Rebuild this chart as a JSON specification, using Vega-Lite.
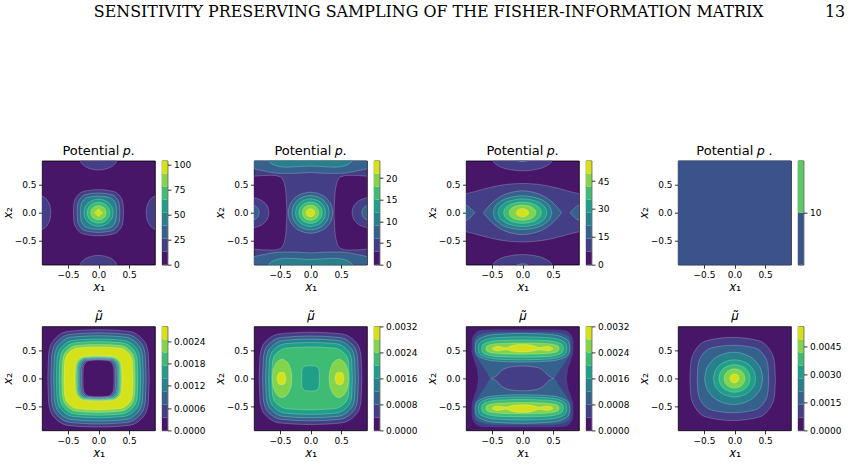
{
"$schema":"https://vega.github.io/schema/vega-lite/v6.json",
"background":"white",
"padding":{"left":0,"top":4,"right":5,"bottom":5},
"config":{
 "view":{"stroke":"#000","strokeWidth":0.8},
 "font":"DejaVu Sans",
 "axis":{"domain":false,"grid":false,"labelFont":"DejaVu Sans","labelFontSize":9,"labelColor":"#000","tickColor":"#000","tickSize":3.5,"tickWidth":0.8,"labelPadding":2.5,"titleFont":"DejaVu Sans","titleFontSize":13,"titleFontWeight":"normal","titleColor":"#000"},
 "axisX":{"titlePadding":1},
 "axisY":{"titlePadding":0},
 "title":{"font":"DejaVu Sans","fontSize":13,"fontWeight":"normal","color":"#000","offset":3}
},
"datasets":{
"p1":[
{"r":1,"c":1,"x":-0.31,"l":0.98,"h":0.98},{"r":1,"c":1,"x":-0.295,"l":0.911,"h":1.049},{"r":1,"c":1,"x":-0.248,"l":0.848,"h":1.112},{"r":1,"c":1,"x":-0.155,"l":0.79,"h":1.17},{"r":1,"c":1,"x":0,"l":0.76,"h":1.2},{"r":1,"c":1,"x":0.155,"l":0.79,"h":1.17},{"r":1,"c":1,"x":0.248,"l":0.848,"h":1.112},{"r":1,"c":1,"x":0.295,"l":0.911,"h":1.049},{"r":1,"c":1,"x":0.31,"l":0.98,"h":0.98},
{"r":2,"c":1,"x":-0.31,"l":-0.98,"h":-0.98},{"r":2,"c":1,"x":-0.295,"l":-1.049,"h":-0.911},{"r":2,"c":1,"x":-0.248,"l":-1.112,"h":-0.848},{"r":2,"c":1,"x":-0.155,"l":-1.17,"h":-0.79},{"r":2,"c":1,"x":0,"l":-1.2,"h":-0.76},{"r":2,"c":1,"x":0.155,"l":-1.17,"h":-0.79},{"r":2,"c":1,"x":0.248,"l":-1.112,"h":-0.848},{"r":2,"c":1,"x":0.295,"l":-1.049,"h":-0.911},{"r":2,"c":1,"x":0.31,"l":-0.98,"h":-0.98},
{"r":3,"c":1,"x":-1.18,"l":0,"h":0},{"r":3,"c":1,"x":-1.17,"l":-0.097,"h":0.097},{"r":3,"c":1,"x":-1.14,"l":-0.186,"h":0.186},{"r":3,"c":1,"x":-1.08,"l":-0.268,"h":0.268},{"r":3,"c":1,"x":-0.98,"l":-0.31,"h":0.31},{"r":3,"c":1,"x":-0.88,"l":-0.268,"h":0.268},{"r":3,"c":1,"x":-0.82,"l":-0.186,"h":0.186},{"r":3,"c":1,"x":-0.79,"l":-0.097,"h":0.097},{"r":3,"c":1,"x":-0.78,"l":0,"h":0},
{"r":4,"c":1,"x":0.78,"l":0,"h":0},{"r":4,"c":1,"x":0.79,"l":-0.097,"h":0.097},{"r":4,"c":1,"x":0.82,"l":-0.186,"h":0.186},{"r":4,"c":1,"x":0.88,"l":-0.268,"h":0.268},{"r":4,"c":1,"x":0.98,"l":-0.31,"h":0.31},{"r":4,"c":1,"x":1.08,"l":-0.268,"h":0.268},{"r":4,"c":1,"x":1.14,"l":-0.186,"h":0.186},{"r":4,"c":1,"x":1.17,"l":-0.097,"h":0.097},{"r":4,"c":1,"x":1.18,"l":0,"h":0},
{"r":5,"c":1,"x":-0.41,"l":0,"h":0},{"r":5,"c":1,"x":-0.402,"l":-0.159,"h":0.159},{"r":5,"c":1,"x":-0.369,"l":-0.265,"h":0.265},{"r":5,"c":1,"x":-0.246,"l":-0.378,"h":0.378},{"r":5,"c":1,"x":0,"l":-0.41,"h":0.41},{"r":5,"c":1,"x":0.246,"l":-0.378,"h":0.378},{"r":5,"c":1,"x":0.369,"l":-0.265,"h":0.265},{"r":5,"c":1,"x":0.402,"l":-0.159,"h":0.159},{"r":5,"c":1,"x":0.41,"l":0,"h":0},
{"r":6,"c":2,"x":-0.35,"l":0,"h":0},{"r":6,"c":2,"x":-0.343,"l":-0.136,"h":0.136},{"r":6,"c":2,"x":-0.315,"l":-0.226,"h":0.226},{"r":6,"c":2,"x":-0.21,"l":-0.323,"h":0.323},{"r":6,"c":2,"x":0,"l":-0.35,"h":0.35},{"r":6,"c":2,"x":0.21,"l":-0.323,"h":0.323},{"r":6,"c":2,"x":0.315,"l":-0.226,"h":0.226},{"r":6,"c":2,"x":0.343,"l":-0.136,"h":0.136},{"r":6,"c":2,"x":0.35,"l":0,"h":0},
{"r":7,"c":3,"x":-0.295,"l":0,"h":0},{"r":7,"c":3,"x":-0.289,"l":-0.115,"h":0.115},{"r":7,"c":3,"x":-0.266,"l":-0.191,"h":0.191},{"r":7,"c":3,"x":-0.177,"l":-0.272,"h":0.272},{"r":7,"c":3,"x":0,"l":-0.295,"h":0.295},{"r":7,"c":3,"x":0.177,"l":-0.272,"h":0.272},{"r":7,"c":3,"x":0.266,"l":-0.191,"h":0.191},{"r":7,"c":3,"x":0.289,"l":-0.115,"h":0.115},{"r":7,"c":3,"x":0.295,"l":0,"h":0},
{"r":8,"c":4,"x":-0.24,"l":0,"h":0},{"r":8,"c":4,"x":-0.228,"l":-0.075,"h":0.075},{"r":8,"c":4,"x":-0.192,"l":-0.144,"h":0.144},{"r":8,"c":4,"x":-0.12,"l":-0.208,"h":0.208},{"r":8,"c":4,"x":0,"l":-0.24,"h":0.24},{"r":8,"c":4,"x":0.12,"l":-0.208,"h":0.208},{"r":8,"c":4,"x":0.192,"l":-0.144,"h":0.144},{"r":8,"c":4,"x":0.228,"l":-0.075,"h":0.075},{"r":8,"c":4,"x":0.24,"l":0,"h":0},
{"r":9,"c":5,"x":-0.185,"l":0,"h":0},{"r":9,"c":5,"x":-0.176,"l":-0.058,"h":0.058},{"r":9,"c":5,"x":-0.148,"l":-0.111,"h":0.111},{"r":9,"c":5,"x":-0.093,"l":-0.16,"h":0.16},{"r":9,"c":5,"x":0,"l":-0.185,"h":0.185},{"r":9,"c":5,"x":0.093,"l":-0.16,"h":0.16},{"r":9,"c":5,"x":0.148,"l":-0.111,"h":0.111},{"r":9,"c":5,"x":0.176,"l":-0.058,"h":0.058},{"r":9,"c":5,"x":0.185,"l":0,"h":0},
{"r":10,"c":6,"x":-0.125,"l":0,"h":0},{"r":10,"c":6,"x":-0.119,"l":-0.039,"h":0.039},{"r":10,"c":6,"x":-0.1,"l":-0.075,"h":0.075},{"r":10,"c":6,"x":-0.063,"l":-0.108,"h":0.108},{"r":10,"c":6,"x":0,"l":-0.125,"h":0.125},{"r":10,"c":6,"x":0.063,"l":-0.108,"h":0.108},{"r":10,"c":6,"x":0.1,"l":-0.075,"h":0.075},{"r":10,"c":6,"x":0.119,"l":-0.039,"h":0.039},{"r":10,"c":6,"x":0.125,"l":0,"h":0},
{"r":11,"c":7,"x":-0.065,"l":0,"h":0},{"r":11,"c":7,"x":-0.032,"l":-0.034,"h":0.034},{"r":11,"c":7,"x":0,"l":-0.066,"h":0.066},{"r":11,"c":7,"x":0.032,"l":-0.034,"h":0.034},{"r":11,"c":7,"x":0.065,"l":0,"h":0}
],
"p2":[
{"r":1,"c":0,"x":-1.0,"l":-0.64,"h":0.64},{"r":1,"c":0,"x":-0.8,"l":-0.66,"h":0.66},{"r":1,"c":0,"x":-0.62,"l":-0.665,"h":0.665},{"r":1,"c":0,"x":-0.5,"l":-0.64,"h":0.64},{"r":1,"c":0,"x":-0.45,"l":-0.58,"h":0.58},{"r":1,"c":0,"x":-0.42,"l":-0.48,"h":0.48},{"r":1,"c":0,"x":-0.4,"l":-0.32,"h":0.32},{"r":1,"c":0,"x":-0.385,"l":0,"h":0},
{"r":2,"c":0,"x":0.385,"l":0,"h":0},{"r":2,"c":0,"x":0.4,"l":-0.32,"h":0.32},{"r":2,"c":0,"x":0.42,"l":-0.48,"h":0.48},{"r":2,"c":0,"x":0.45,"l":-0.58,"h":0.58},{"r":2,"c":0,"x":0.5,"l":-0.64,"h":0.64},{"r":2,"c":0,"x":0.62,"l":-0.665,"h":0.665},{"r":2,"c":0,"x":0.8,"l":-0.66,"h":0.66},{"r":2,"c":0,"x":1.0,"l":-0.64,"h":0.64},
{"r":3,"c":1,"x":-1.28,"l":0,"h":0},{"r":3,"c":1,"x":-1.265,"l":-0.084,"h":0.084},{"r":3,"c":1,"x":-1.22,"l":-0.162,"h":0.162},{"r":3,"c":1,"x":-1.13,"l":-0.234,"h":0.234},{"r":3,"c":1,"x":-0.98,"l":-0.27,"h":0.27},{"r":3,"c":1,"x":-0.83,"l":-0.234,"h":0.234},{"r":3,"c":1,"x":-0.74,"l":-0.162,"h":0.162},{"r":3,"c":1,"x":-0.695,"l":-0.084,"h":0.084},{"r":3,"c":1,"x":-0.68,"l":0,"h":0},
{"r":4,"c":2,"x":-1.12,"l":0,"h":0},{"r":4,"c":2,"x":-1.113,"l":-0.044,"h":0.044},{"r":4,"c":2,"x":-1.092,"l":-0.084,"h":0.084},{"r":4,"c":2,"x":-1.05,"l":-0.121,"h":0.121},{"r":4,"c":2,"x":-0.98,"l":-0.14,"h":0.14},{"r":4,"c":2,"x":-0.91,"l":-0.121,"h":0.121},{"r":4,"c":2,"x":-0.868,"l":-0.084,"h":0.084},{"r":4,"c":2,"x":-0.847,"l":-0.044,"h":0.044},{"r":4,"c":2,"x":-0.84,"l":0,"h":0},
{"r":5,"c":1,"x":0.68,"l":0,"h":0},{"r":5,"c":1,"x":0.695,"l":-0.084,"h":0.084},{"r":5,"c":1,"x":0.74,"l":-0.162,"h":0.162},{"r":5,"c":1,"x":0.83,"l":-0.234,"h":0.234},{"r":5,"c":1,"x":0.98,"l":-0.27,"h":0.27},{"r":5,"c":1,"x":1.13,"l":-0.234,"h":0.234},{"r":5,"c":1,"x":1.22,"l":-0.162,"h":0.162},{"r":5,"c":1,"x":1.265,"l":-0.084,"h":0.084},{"r":5,"c":1,"x":1.28,"l":0,"h":0},
{"r":6,"c":2,"x":0.84,"l":0,"h":0},{"r":6,"c":2,"x":0.847,"l":-0.044,"h":0.044},{"r":6,"c":2,"x":0.868,"l":-0.084,"h":0.084},{"r":6,"c":2,"x":0.91,"l":-0.121,"h":0.121},{"r":6,"c":2,"x":0.98,"l":-0.14,"h":0.14},{"r":6,"c":2,"x":1.05,"l":-0.121,"h":0.121},{"r":6,"c":2,"x":1.092,"l":-0.084,"h":0.084},{"r":6,"c":2,"x":1.113,"l":-0.044,"h":0.044},{"r":6,"c":2,"x":1.12,"l":0,"h":0},
{"r":7,"c":2,"x":-1.0,"l":0.8,"h":1.2},{"r":7,"c":2,"x":-0.75,"l":0.74,"h":1.2},{"r":7,"c":2,"x":-0.5,"l":0.7,"h":1.2},{"r":7,"c":2,"x":-0.25,"l":0.7,"h":1.2},{"r":7,"c":2,"x":0,"l":0.715,"h":1.2},{"r":7,"c":2,"x":0.25,"l":0.7,"h":1.2},{"r":7,"c":2,"x":0.5,"l":0.7,"h":1.2},{"r":7,"c":2,"x":0.75,"l":0.74,"h":1.2},{"r":7,"c":2,"x":1.0,"l":0.8,"h":1.2},
{"r":8,"c":3,"x":-0.72,"l":0.96,"h":1.2},{"r":8,"c":3,"x":-0.6,"l":0.85,"h":1.2},{"r":8,"c":3,"x":-0.4,"l":0.81,"h":1.2},{"r":8,"c":3,"x":-0.2,"l":0.82,"h":1.2},{"r":8,"c":3,"x":0,"l":0.83,"h":1.2},{"r":8,"c":3,"x":0.2,"l":0.82,"h":1.2},{"r":8,"c":3,"x":0.4,"l":0.81,"h":1.2},{"r":8,"c":3,"x":0.6,"l":0.85,"h":1.2},{"r":8,"c":3,"x":0.72,"l":0.96,"h":1.2},
{"r":9,"c":2,"x":-1.0,"l":-1.2,"h":-0.8},{"r":9,"c":2,"x":-0.75,"l":-1.2,"h":-0.74},{"r":9,"c":2,"x":-0.5,"l":-1.2,"h":-0.7},{"r":9,"c":2,"x":-0.25,"l":-1.2,"h":-0.7},{"r":9,"c":2,"x":0,"l":-1.2,"h":-0.715},{"r":9,"c":2,"x":0.25,"l":-1.2,"h":-0.7},{"r":9,"c":2,"x":0.5,"l":-1.2,"h":-0.7},{"r":9,"c":2,"x":0.75,"l":-1.2,"h":-0.74},{"r":9,"c":2,"x":1.0,"l":-1.2,"h":-0.8},
{"r":10,"c":3,"x":-0.72,"l":-1.2,"h":-0.96},{"r":10,"c":3,"x":-0.6,"l":-1.2,"h":-0.85},{"r":10,"c":3,"x":-0.4,"l":-1.2,"h":-0.81},{"r":10,"c":3,"x":-0.2,"l":-1.2,"h":-0.82},{"r":10,"c":3,"x":0,"l":-1.2,"h":-0.83},{"r":10,"c":3,"x":0.2,"l":-1.2,"h":-0.82},{"r":10,"c":3,"x":0.4,"l":-1.2,"h":-0.81},{"r":10,"c":3,"x":0.6,"l":-1.2,"h":-0.85},{"r":10,"c":3,"x":0.72,"l":-1.2,"h":-0.96},
{"r":11,"c":2,"x":-0.365,"l":0,"h":0},{"r":11,"c":2,"x":-0.347,"l":-0.114,"h":0.114},{"r":11,"c":2,"x":-0.292,"l":-0.219,"h":0.219},{"r":11,"c":2,"x":-0.183,"l":-0.316,"h":0.316},{"r":11,"c":2,"x":0,"l":-0.365,"h":0.365},{"r":11,"c":2,"x":0.183,"l":-0.316,"h":0.316},{"r":11,"c":2,"x":0.292,"l":-0.219,"h":0.219},{"r":11,"c":2,"x":0.347,"l":-0.114,"h":0.114},{"r":11,"c":2,"x":0.365,"l":0,"h":0},
{"r":12,"c":3,"x":-0.305,"l":0,"h":0},{"r":12,"c":3,"x":-0.29,"l":-0.095,"h":0.095},{"r":12,"c":3,"x":-0.244,"l":-0.183,"h":0.183},{"r":12,"c":3,"x":-0.153,"l":-0.264,"h":0.264},{"r":12,"c":3,"x":0,"l":-0.305,"h":0.305},{"r":12,"c":3,"x":0.153,"l":-0.264,"h":0.264},{"r":12,"c":3,"x":0.244,"l":-0.183,"h":0.183},{"r":12,"c":3,"x":0.29,"l":-0.095,"h":0.095},{"r":12,"c":3,"x":0.305,"l":0,"h":0},
{"r":13,"c":4,"x":-0.245,"l":0,"h":0},{"r":13,"c":4,"x":-0.233,"l":-0.076,"h":0.076},{"r":13,"c":4,"x":-0.196,"l":-0.147,"h":0.147},{"r":13,"c":4,"x":-0.123,"l":-0.212,"h":0.212},{"r":13,"c":4,"x":0,"l":-0.245,"h":0.245},{"r":13,"c":4,"x":0.123,"l":-0.212,"h":0.212},{"r":13,"c":4,"x":0.196,"l":-0.147,"h":0.147},{"r":13,"c":4,"x":0.233,"l":-0.076,"h":0.076},{"r":13,"c":4,"x":0.245,"l":0,"h":0},
{"r":14,"c":5,"x":-0.19,"l":0,"h":0},{"r":14,"c":5,"x":-0.181,"l":-0.059,"h":0.059},{"r":14,"c":5,"x":-0.152,"l":-0.114,"h":0.114},{"r":14,"c":5,"x":-0.095,"l":-0.165,"h":0.165},{"r":14,"c":5,"x":0,"l":-0.19,"h":0.19},{"r":14,"c":5,"x":0.095,"l":-0.165,"h":0.165},{"r":14,"c":5,"x":0.152,"l":-0.114,"h":0.114},{"r":14,"c":5,"x":0.181,"l":-0.059,"h":0.059},{"r":14,"c":5,"x":0.19,"l":0,"h":0},
{"r":15,"c":6,"x":-0.135,"l":0,"h":0},{"r":15,"c":6,"x":-0.128,"l":-0.042,"h":0.042},{"r":15,"c":6,"x":-0.108,"l":-0.081,"h":0.081},{"r":15,"c":6,"x":-0.068,"l":-0.117,"h":0.117},{"r":15,"c":6,"x":0,"l":-0.135,"h":0.135},{"r":15,"c":6,"x":0.068,"l":-0.117,"h":0.117},{"r":15,"c":6,"x":0.108,"l":-0.081,"h":0.081},{"r":15,"c":6,"x":0.128,"l":-0.042,"h":0.042},{"r":15,"c":6,"x":0.135,"l":0,"h":0},
{"r":16,"c":7,"x":-0.07,"l":0,"h":0},{"r":16,"c":7,"x":-0.067,"l":-0.022,"h":0.022},{"r":16,"c":7,"x":-0.056,"l":-0.042,"h":0.042},{"r":16,"c":7,"x":-0.035,"l":-0.061,"h":0.061},{"r":16,"c":7,"x":0,"l":-0.07,"h":0.07},{"r":16,"c":7,"x":0.035,"l":-0.061,"h":0.061},{"r":16,"c":7,"x":0.056,"l":-0.042,"h":0.042},{"r":16,"c":7,"x":0.067,"l":-0.022,"h":0.022},{"r":16,"c":7,"x":0.07,"l":0,"h":0}
],
"p3":[
{"r":1,"c":1,"x":-1.0,"l":-0.32,"h":0.32},{"r":1,"c":1,"x":-0.8,"l":-0.37,"h":0.37},{"r":1,"c":1,"x":-0.6,"l":-0.43,"h":0.43},{"r":1,"c":1,"x":-0.4,"l":-0.48,"h":0.48},{"r":1,"c":1,"x":-0.2,"l":-0.51,"h":0.51},{"r":1,"c":1,"x":0,"l":-0.52,"h":0.52},{"r":1,"c":1,"x":0.2,"l":-0.51,"h":0.51},{"r":1,"c":1,"x":0.4,"l":-0.48,"h":0.48},{"r":1,"c":1,"x":0.6,"l":-0.43,"h":0.43},{"r":1,"c":1,"x":0.8,"l":-0.37,"h":0.37},{"r":1,"c":1,"x":1.0,"l":-0.32,"h":0.32},
{"r":2,"c":1,"x":-0.5,"l":0.98,"h":0.98},{"r":2,"c":1,"x":-0.475,"l":0.907,"h":1.053},{"r":2,"c":1,"x":-0.4,"l":0.839,"h":1.121},{"r":2,"c":1,"x":-0.25,"l":0.776,"h":1.184},{"r":2,"c":1,"x":0,"l":0.745,"h":1.215},{"r":2,"c":1,"x":0.25,"l":0.776,"h":1.184},{"r":2,"c":1,"x":0.4,"l":0.839,"h":1.121},{"r":2,"c":1,"x":0.475,"l":0.907,"h":1.053},{"r":2,"c":1,"x":0.5,"l":0.98,"h":0.98},
{"r":3,"c":2,"x":-0.12,"l":0.96,"h":0.96},{"r":3,"c":2,"x":-0.084,"l":0.925,"h":0.995},{"r":3,"c":2,"x":0,"l":0.91,"h":1.01},{"r":3,"c":2,"x":0.084,"l":0.925,"h":0.995},{"r":3,"c":2,"x":0.12,"l":0.96,"h":0.96},
{"r":4,"c":1,"x":-0.5,"l":-0.98,"h":-0.98},{"r":4,"c":1,"x":-0.475,"l":-1.053,"h":-0.907},{"r":4,"c":1,"x":-0.4,"l":-1.121,"h":-0.839},{"r":4,"c":1,"x":-0.25,"l":-1.184,"h":-0.776},{"r":4,"c":1,"x":0,"l":-1.215,"h":-0.745},{"r":4,"c":1,"x":0.25,"l":-1.184,"h":-0.776},{"r":4,"c":1,"x":0.4,"l":-1.121,"h":-0.839},{"r":4,"c":1,"x":0.475,"l":-1.053,"h":-0.907},{"r":4,"c":1,"x":0.5,"l":-0.98,"h":-0.98},
{"r":5,"c":2,"x":-0.12,"l":-0.96,"h":-0.96},{"r":5,"c":2,"x":-0.084,"l":-0.995,"h":-0.925},{"r":5,"c":2,"x":0,"l":-1.01,"h":-0.91},{"r":5,"c":2,"x":0.084,"l":-0.995,"h":-0.925},{"r":5,"c":2,"x":0.12,"l":-0.96,"h":-0.96},
{"r":6,"c":2,"x":-1.0,"l":-0.16,"h":0.16},{"r":6,"c":2,"x":-0.925,"l":-0.14,"h":0.14},{"r":6,"c":2,"x":-0.85,"l":-0.08,"h":0.08},{"r":6,"c":2,"x":-0.78,"l":0,"h":0},
{"r":7,"c":2,"x":0.78,"l":0,"h":0},{"r":7,"c":2,"x":0.85,"l":-0.08,"h":0.08},{"r":7,"c":2,"x":0.925,"l":-0.14,"h":0.14},{"r":7,"c":2,"x":1.0,"l":-0.16,"h":0.16},
{"r":8,"c":2,"x":-0.64,"l":0,"h":0},{"r":8,"c":2,"x":-0.55,"l":-0.12,"h":0.12},{"r":8,"c":2,"x":-0.45,"l":-0.22,"h":0.22},{"r":8,"c":2,"x":-0.3,"l":-0.32,"h":0.32},{"r":8,"c":2,"x":-0.15,"l":-0.37,"h":0.37},{"r":8,"c":2,"x":0,"l":-0.39,"h":0.39},{"r":8,"c":2,"x":0.15,"l":-0.37,"h":0.37},{"r":8,"c":2,"x":0.3,"l":-0.32,"h":0.32},{"r":8,"c":2,"x":0.45,"l":-0.22,"h":0.22},{"r":8,"c":2,"x":0.55,"l":-0.12,"h":0.12},{"r":8,"c":2,"x":0.64,"l":0,"h":0},
{"r":9,"c":3,"x":-0.48,"l":0,"h":0},{"r":9,"c":3,"x":-0.456,"l":-0.094,"h":0.094},{"r":9,"c":3,"x":-0.384,"l":-0.18,"h":0.18},{"r":9,"c":3,"x":-0.24,"l":-0.26,"h":0.26},{"r":9,"c":3,"x":0,"l":-0.3,"h":0.3},{"r":9,"c":3,"x":0.24,"l":-0.26,"h":0.26},{"r":9,"c":3,"x":0.384,"l":-0.18,"h":0.18},{"r":9,"c":3,"x":0.456,"l":-0.094,"h":0.094},{"r":9,"c":3,"x":0.48,"l":0,"h":0},
{"r":10,"c":4,"x":-0.4,"l":0,"h":0},{"r":10,"c":4,"x":-0.38,"l":-0.076,"h":0.076},{"r":10,"c":4,"x":-0.32,"l":-0.147,"h":0.147},{"r":10,"c":4,"x":-0.2,"l":-0.212,"h":0.212},{"r":10,"c":4,"x":0,"l":-0.245,"h":0.245},{"r":10,"c":4,"x":0.2,"l":-0.212,"h":0.212},{"r":10,"c":4,"x":0.32,"l":-0.147,"h":0.147},{"r":10,"c":4,"x":0.38,"l":-0.076,"h":0.076},{"r":10,"c":4,"x":0.4,"l":0,"h":0},
{"r":11,"c":5,"x":-0.31,"l":0,"h":0},{"r":11,"c":5,"x":-0.295,"l":-0.059,"h":0.059},{"r":11,"c":5,"x":-0.248,"l":-0.114,"h":0.114},{"r":11,"c":5,"x":-0.155,"l":-0.165,"h":0.165},{"r":11,"c":5,"x":0,"l":-0.19,"h":0.19},{"r":11,"c":5,"x":0.155,"l":-0.165,"h":0.165},{"r":11,"c":5,"x":0.248,"l":-0.114,"h":0.114},{"r":11,"c":5,"x":0.295,"l":-0.059,"h":0.059},{"r":11,"c":5,"x":0.31,"l":0,"h":0},
{"r":12,"c":6,"x":-0.22,"l":0,"h":0},{"r":12,"c":6,"x":-0.209,"l":-0.042,"h":0.042},{"r":12,"c":6,"x":-0.176,"l":-0.081,"h":0.081},{"r":12,"c":6,"x":-0.11,"l":-0.117,"h":0.117},{"r":12,"c":6,"x":0,"l":-0.135,"h":0.135},{"r":12,"c":6,"x":0.11,"l":-0.117,"h":0.117},{"r":12,"c":6,"x":0.176,"l":-0.081,"h":0.081},{"r":12,"c":6,"x":0.209,"l":-0.042,"h":0.042},{"r":12,"c":6,"x":0.22,"l":0,"h":0},
{"r":13,"c":7,"x":-0.1,"l":0,"h":0},{"r":13,"c":7,"x":-0.095,"l":-0.023,"h":0.023},{"r":13,"c":7,"x":-0.08,"l":-0.045,"h":0.045},{"r":13,"c":7,"x":-0.05,"l":-0.065,"h":0.065},{"r":13,"c":7,"x":0,"l":-0.075,"h":0.075},{"r":13,"c":7,"x":0.05,"l":-0.065,"h":0.065},{"r":13,"c":7,"x":0.08,"l":-0.045,"h":0.045},{"r":13,"c":7,"x":0.095,"l":-0.023,"h":0.023},{"r":13,"c":7,"x":0.1,"l":0,"h":0}
],
"p4":[
{"r":1,"c":8,"x":-1.0,"l":-1.0,"h":1.0},{"r":1,"c":8,"x":1.0,"l":-1.0,"h":1.0}
],
"p5":[
{"r":1,"c":1,"x":-0.83,"l":0,"h":0},{"r":1,"c":1,"x":-0.813,"l":-0.457,"h":0.457},{"r":1,"c":1,"x":-0.747,"l":-0.663,"h":0.663},{"r":1,"c":1,"x":-0.498,"l":-0.836,"h":0.836},{"r":1,"c":1,"x":0,"l":-0.865,"h":0.865},{"r":1,"c":1,"x":0.498,"l":-0.836,"h":0.836},{"r":1,"c":1,"x":0.747,"l":-0.663,"h":0.663},{"r":1,"c":1,"x":0.813,"l":-0.457,"h":0.457},{"r":1,"c":1,"x":0.83,"l":0,"h":0},
{"r":2,"c":2,"x":-0.78,"l":0,"h":0},{"r":2,"c":2,"x":-0.764,"l":-0.428,"h":0.428},{"r":2,"c":2,"x":-0.702,"l":-0.62,"h":0.62},{"r":2,"c":2,"x":-0.468,"l":-0.782,"h":0.782},{"r":2,"c":2,"x":0,"l":-0.81,"h":0.81},{"r":2,"c":2,"x":0.468,"l":-0.782,"h":0.782},{"r":2,"c":2,"x":0.702,"l":-0.62,"h":0.62},{"r":2,"c":2,"x":0.764,"l":-0.428,"h":0.428},{"r":2,"c":2,"x":0.78,"l":0,"h":0},
{"r":3,"c":3,"x":-0.735,"l":0,"h":0},{"r":3,"c":3,"x":-0.72,"l":-0.401,"h":0.401},{"r":3,"c":3,"x":-0.662,"l":-0.582,"h":0.582},{"r":3,"c":3,"x":-0.441,"l":-0.734,"h":0.734},{"r":3,"c":3,"x":0,"l":-0.76,"h":0.76},{"r":3,"c":3,"x":0.441,"l":-0.734,"h":0.734},{"r":3,"c":3,"x":0.662,"l":-0.582,"h":0.582},{"r":3,"c":3,"x":0.72,"l":-0.401,"h":0.401},{"r":3,"c":3,"x":0.735,"l":0,"h":0},
{"r":4,"c":4,"x":-0.69,"l":0,"h":0},{"r":4,"c":4,"x":-0.676,"l":-0.37,"h":0.37},{"r":4,"c":4,"x":-0.621,"l":-0.536,"h":0.536},{"r":4,"c":4,"x":-0.414,"l":-0.676,"h":0.676},{"r":4,"c":4,"x":0,"l":-0.7,"h":0.7},{"r":4,"c":4,"x":0.414,"l":-0.676,"h":0.676},{"r":4,"c":4,"x":0.621,"l":-0.536,"h":0.536},{"r":4,"c":4,"x":0.676,"l":-0.37,"h":0.37},{"r":4,"c":4,"x":0.69,"l":0,"h":0},
{"r":5,"c":5,"x":-0.645,"l":0,"h":0},{"r":5,"c":5,"x":-0.632,"l":-0.346,"h":0.346},{"r":5,"c":5,"x":-0.581,"l":-0.502,"h":0.502},{"r":5,"c":5,"x":-0.387,"l":-0.633,"h":0.633},{"r":5,"c":5,"x":0,"l":-0.655,"h":0.655},{"r":5,"c":5,"x":0.387,"l":-0.633,"h":0.633},{"r":5,"c":5,"x":0.581,"l":-0.502,"h":0.502},{"r":5,"c":5,"x":0.632,"l":-0.346,"h":0.346},{"r":5,"c":5,"x":0.645,"l":0,"h":0},
{"r":6,"c":6,"x":-0.6,"l":0,"h":0},{"r":6,"c":6,"x":-0.588,"l":-0.319,"h":0.319},{"r":6,"c":6,"x":-0.54,"l":-0.463,"h":0.463},{"r":6,"c":6,"x":-0.36,"l":-0.584,"h":0.584},{"r":6,"c":6,"x":0,"l":-0.605,"h":0.605},{"r":6,"c":6,"x":0.36,"l":-0.584,"h":0.584},{"r":6,"c":6,"x":0.54,"l":-0.463,"h":0.463},{"r":6,"c":6,"x":0.588,"l":-0.319,"h":0.319},{"r":6,"c":6,"x":0.6,"l":0,"h":0},
{"r":7,"c":7,"x":-0.565,"l":0,"h":0},{"r":7,"c":7,"x":-0.554,"l":-0.296,"h":0.296},{"r":7,"c":7,"x":-0.509,"l":-0.429,"h":0.429},{"r":7,"c":7,"x":-0.339,"l":-0.541,"h":0.541},{"r":7,"c":7,"x":0,"l":-0.56,"h":0.56},{"r":7,"c":7,"x":0.339,"l":-0.541,"h":0.541},{"r":7,"c":7,"x":0.509,"l":-0.429,"h":0.429},{"r":7,"c":7,"x":0.554,"l":-0.296,"h":0.296},{"r":7,"c":7,"x":0.565,"l":0,"h":0},
{"r":8,"c":6,"x":-0.385,"l":0,"h":0},{"r":8,"c":6,"x":-0.377,"l":-0.214,"h":0.214},{"r":8,"c":6,"x":-0.347,"l":-0.31,"h":0.31},{"r":8,"c":6,"x":-0.231,"l":-0.391,"h":0.391},{"r":8,"c":6,"x":0,"l":-0.405,"h":0.405},{"r":8,"c":6,"x":0.231,"l":-0.391,"h":0.391},{"r":8,"c":6,"x":0.347,"l":-0.31,"h":0.31},{"r":8,"c":6,"x":0.377,"l":-0.214,"h":0.214},{"r":8,"c":6,"x":0.385,"l":0,"h":0},
{"r":9,"c":5,"x":-0.365,"l":0,"h":0},{"r":9,"c":5,"x":-0.358,"l":-0.206,"h":0.206},{"r":9,"c":5,"x":-0.329,"l":-0.299,"h":0.299},{"r":9,"c":5,"x":-0.219,"l":-0.377,"h":0.377},{"r":9,"c":5,"x":0,"l":-0.39,"h":0.39},{"r":9,"c":5,"x":0.219,"l":-0.377,"h":0.377},{"r":9,"c":5,"x":0.329,"l":-0.299,"h":0.299},{"r":9,"c":5,"x":0.358,"l":-0.206,"h":0.206},{"r":9,"c":5,"x":0.365,"l":0,"h":0},
{"r":10,"c":4,"x":-0.345,"l":0,"h":0},{"r":10,"c":4,"x":-0.338,"l":-0.199,"h":0.199},{"r":10,"c":4,"x":-0.311,"l":-0.289,"h":0.289},{"r":10,"c":4,"x":-0.207,"l":-0.364,"h":0.364},{"r":10,"c":4,"x":0,"l":-0.377,"h":0.377},{"r":10,"c":4,"x":0.207,"l":-0.364,"h":0.364},{"r":10,"c":4,"x":0.311,"l":-0.289,"h":0.289},{"r":10,"c":4,"x":0.338,"l":-0.199,"h":0.199},{"r":10,"c":4,"x":0.345,"l":0,"h":0},
{"r":11,"c":3,"x":-0.325,"l":0,"h":0},{"r":11,"c":3,"x":-0.319,"l":-0.193,"h":0.193},{"r":11,"c":3,"x":-0.293,"l":-0.28,"h":0.28},{"r":11,"c":3,"x":-0.195,"l":-0.353,"h":0.353},{"r":11,"c":3,"x":0,"l":-0.365,"h":0.365},{"r":11,"c":3,"x":0.195,"l":-0.353,"h":0.353},{"r":11,"c":3,"x":0.293,"l":-0.28,"h":0.28},{"r":11,"c":3,"x":0.319,"l":-0.193,"h":0.193},{"r":11,"c":3,"x":0.325,"l":0,"h":0},
{"r":12,"c":2,"x":-0.305,"l":0,"h":0},{"r":12,"c":2,"x":-0.299,"l":-0.186,"h":0.186},{"r":12,"c":2,"x":-0.275,"l":-0.27,"h":0.27},{"r":12,"c":2,"x":-0.183,"l":-0.34,"h":0.34},{"r":12,"c":2,"x":0,"l":-0.352,"h":0.352},{"r":12,"c":2,"x":0.183,"l":-0.34,"h":0.34},{"r":12,"c":2,"x":0.275,"l":-0.27,"h":0.27},{"r":12,"c":2,"x":0.299,"l":-0.186,"h":0.186},{"r":12,"c":2,"x":0.305,"l":0,"h":0},
{"r":13,"c":1,"x":-0.28,"l":0,"h":0},{"r":13,"c":1,"x":-0.274,"l":-0.18,"h":0.18},{"r":13,"c":1,"x":-0.252,"l":-0.26,"h":0.26},{"r":13,"c":1,"x":-0.168,"l":-0.328,"h":0.328},{"r":13,"c":1,"x":0,"l":-0.34,"h":0.34},{"r":13,"c":1,"x":0.168,"l":-0.328,"h":0.328},{"r":13,"c":1,"x":0.252,"l":-0.26,"h":0.26},{"r":13,"c":1,"x":0.274,"l":-0.18,"h":0.18},{"r":13,"c":1,"x":0.28,"l":0,"h":0},
{"r":14,"c":0,"x":-0.255,"l":0,"h":0},{"r":14,"c":0,"x":-0.25,"l":-0.173,"h":0.173},{"r":14,"c":0,"x":-0.23,"l":-0.251,"h":0.251},{"r":14,"c":0,"x":-0.153,"l":-0.317,"h":0.317},{"r":14,"c":0,"x":0,"l":-0.328,"h":0.328},{"r":14,"c":0,"x":0.153,"l":-0.317,"h":0.317},{"r":14,"c":0,"x":0.23,"l":-0.251,"h":0.251},{"r":14,"c":0,"x":0.25,"l":-0.173,"h":0.173},{"r":14,"c":0,"x":0.255,"l":0,"h":0}
],
"p6":[
{"r":1,"c":1,"x":-0.84,"l":0,"h":0},{"r":1,"c":1,"x":-0.823,"l":-0.433,"h":0.433},{"r":1,"c":1,"x":-0.756,"l":-0.628,"h":0.628},{"r":1,"c":1,"x":-0.504,"l":-0.792,"h":0.792},{"r":1,"c":1,"x":0,"l":-0.82,"h":0.82},{"r":1,"c":1,"x":0.504,"l":-0.792,"h":0.792},{"r":1,"c":1,"x":0.756,"l":-0.628,"h":0.628},{"r":1,"c":1,"x":0.823,"l":-0.433,"h":0.433},{"r":1,"c":1,"x":0.84,"l":0,"h":0},
{"r":2,"c":2,"x":-0.785,"l":0,"h":0},{"r":2,"c":2,"x":-0.769,"l":-0.399,"h":0.399},{"r":2,"c":2,"x":-0.707,"l":-0.578,"h":0.578},{"r":2,"c":2,"x":-0.471,"l":-0.729,"h":0.729},{"r":2,"c":2,"x":0,"l":-0.755,"h":0.755},{"r":2,"c":2,"x":0.471,"l":-0.729,"h":0.729},{"r":2,"c":2,"x":0.707,"l":-0.578,"h":0.578},{"r":2,"c":2,"x":0.769,"l":-0.399,"h":0.399},{"r":2,"c":2,"x":0.785,"l":0,"h":0},
{"r":3,"c":3,"x":-0.735,"l":0,"h":0},{"r":3,"c":3,"x":-0.72,"l":-0.37,"h":0.37},{"r":3,"c":3,"x":-0.662,"l":-0.536,"h":0.536},{"r":3,"c":3,"x":-0.441,"l":-0.676,"h":0.676},{"r":3,"c":3,"x":0,"l":-0.7,"h":0.7},{"r":3,"c":3,"x":0.441,"l":-0.676,"h":0.676},{"r":3,"c":3,"x":0.662,"l":-0.536,"h":0.536},{"r":3,"c":3,"x":0.72,"l":-0.37,"h":0.37},{"r":3,"c":3,"x":0.735,"l":0,"h":0},
{"r":4,"c":4,"x":-0.685,"l":0,"h":0},{"r":4,"c":4,"x":-0.671,"l":-0.338,"h":0.338},{"r":4,"c":4,"x":-0.617,"l":-0.49,"h":0.49},{"r":4,"c":4,"x":-0.411,"l":-0.618,"h":0.618},{"r":4,"c":4,"x":0,"l":-0.64,"h":0.64},{"r":4,"c":4,"x":0.411,"l":-0.618,"h":0.618},{"r":4,"c":4,"x":0.617,"l":-0.49,"h":0.49},{"r":4,"c":4,"x":0.671,"l":-0.338,"h":0.338},{"r":4,"c":4,"x":0.685,"l":0,"h":0},
{"r":5,"c":5,"x":-0.635,"l":0,"h":0},{"r":5,"c":5,"x":-0.622,"l":-0.296,"h":0.296},{"r":5,"c":5,"x":-0.572,"l":-0.429,"h":0.429},{"r":5,"c":5,"x":-0.381,"l":-0.541,"h":0.541},{"r":5,"c":5,"x":0,"l":-0.56,"h":0.56},{"r":5,"c":5,"x":0.381,"l":-0.541,"h":0.541},{"r":5,"c":5,"x":0.572,"l":-0.429,"h":0.429},{"r":5,"c":5,"x":0.622,"l":-0.296,"h":0.296},{"r":5,"c":5,"x":0.635,"l":0,"h":0},
{"r":6,"c":4,"x":-0.145,"l":0,"h":0},{"r":6,"c":4,"x":-0.142,"l":-0.119,"h":0.119},{"r":6,"c":4,"x":-0.131,"l":-0.172,"h":0.172},{"r":6,"c":4,"x":-0.087,"l":-0.217,"h":0.217},{"r":6,"c":4,"x":0,"l":-0.225,"h":0.225},{"r":6,"c":4,"x":0.087,"l":-0.217,"h":0.217},{"r":6,"c":4,"x":0.131,"l":-0.172,"h":0.172},{"r":6,"c":4,"x":0.142,"l":-0.119,"h":0.119},{"r":6,"c":4,"x":0.145,"l":0,"h":0},
{"r":7,"c":6,"x":-0.625,"l":0,"h":0},{"r":7,"c":6,"x":-0.617,"l":-0.106,"h":0.106},{"r":7,"c":6,"x":-0.593,"l":-0.204,"h":0.204},{"r":7,"c":6,"x":-0.545,"l":-0.294,"h":0.294},{"r":7,"c":6,"x":-0.465,"l":-0.34,"h":0.34},{"r":7,"c":6,"x":-0.385,"l":-0.294,"h":0.294},{"r":7,"c":6,"x":-0.337,"l":-0.204,"h":0.204},{"r":7,"c":6,"x":-0.313,"l":-0.106,"h":0.106},{"r":7,"c":6,"x":-0.305,"l":0,"h":0},
{"r":8,"c":6,"x":0.305,"l":0,"h":0},{"r":8,"c":6,"x":0.313,"l":-0.106,"h":0.106},{"r":8,"c":6,"x":0.337,"l":-0.204,"h":0.204},{"r":8,"c":6,"x":0.385,"l":-0.294,"h":0.294},{"r":8,"c":6,"x":0.465,"l":-0.34,"h":0.34},{"r":8,"c":6,"x":0.545,"l":-0.294,"h":0.294},{"r":8,"c":6,"x":0.593,"l":-0.204,"h":0.204},{"r":8,"c":6,"x":0.617,"l":-0.106,"h":0.106},{"r":8,"c":6,"x":0.625,"l":0,"h":0},
{"r":9,"c":7,"x":-0.55,"l":0,"h":0},{"r":9,"c":7,"x":-0.52,"l":-0.1,"h":0.1},{"r":9,"c":7,"x":-0.475,"l":-0.11,"h":0.11},{"r":9,"c":7,"x":-0.43,"l":-0.1,"h":0.1},{"r":9,"c":7,"x":-0.4,"l":0,"h":0},
{"r":10,"c":7,"x":0.4,"l":0,"h":0},{"r":10,"c":7,"x":0.43,"l":-0.1,"h":0.1},{"r":10,"c":7,"x":0.475,"l":-0.11,"h":0.11},{"r":10,"c":7,"x":0.52,"l":-0.1,"h":0.1},{"r":10,"c":7,"x":0.55,"l":0,"h":0}
],
"p7":[
{"r":1,"c":1,"k":"h","x":-0.835,"l":0.55,"h":0.55},{"r":1,"c":1,"k":"h","x":-0.83,"l":0.45,"h":0.68},{"r":1,"c":1,"k":"h","x":-0.81,"l":0.38,"h":0.75},{"r":1,"c":1,"k":"h","x":-0.78,"l":0.27,"h":0.8},{"r":1,"c":1,"k":"h","x":-0.75,"l":0.18,"h":0.83},{"r":1,"c":1,"k":"h","x":-0.72,"l":-0.005,"h":0.85},{"r":1,"c":1,"k":"h","x":-0.6,"l":-0.005,"h":0.865},{"r":1,"c":1,"k":"h","x":-0.3,"l":-0.005,"h":0.87},{"r":1,"c":1,"k":"h","x":0,"l":-0.005,"h":0.87},{"r":1,"c":1,"k":"h","x":0.3,"l":-0.005,"h":0.87},{"r":1,"c":1,"k":"h","x":0.6,"l":-0.005,"h":0.865},{"r":1,"c":1,"k":"h","x":0.72,"l":-0.005,"h":0.85},{"r":1,"c":1,"k":"h","x":0.75,"l":0.18,"h":0.83},{"r":1,"c":1,"k":"h","x":0.78,"l":0.27,"h":0.8},{"r":1,"c":1,"k":"h","x":0.81,"l":0.38,"h":0.75},{"r":1,"c":1,"k":"h","x":0.83,"l":0.45,"h":0.68},{"r":1,"c":1,"k":"h","x":0.835,"l":0.55,"h":0.55},
{"r":2,"c":1,"k":"h","x":-0.835,"l":-0.55,"h":-0.55},{"r":2,"c":1,"k":"h","x":-0.83,"l":-0.68,"h":-0.45},{"r":2,"c":1,"k":"h","x":-0.81,"l":-0.75,"h":-0.38},{"r":2,"c":1,"k":"h","x":-0.78,"l":-0.8,"h":-0.27},{"r":2,"c":1,"k":"h","x":-0.75,"l":-0.83,"h":-0.18},{"r":2,"c":1,"k":"h","x":-0.72,"l":-0.85,"h":0.005},{"r":2,"c":1,"k":"h","x":-0.6,"l":-0.865,"h":0.005},{"r":2,"c":1,"k":"h","x":-0.3,"l":-0.87,"h":0.005},{"r":2,"c":1,"k":"h","x":0,"l":-0.87,"h":0.005},{"r":2,"c":1,"k":"h","x":0.3,"l":-0.87,"h":0.005},{"r":2,"c":1,"k":"h","x":0.6,"l":-0.865,"h":0.005},{"r":2,"c":1,"k":"h","x":0.72,"l":-0.85,"h":0.005},{"r":2,"c":1,"k":"h","x":0.75,"l":-0.83,"h":-0.18},{"r":2,"c":1,"k":"h","x":0.78,"l":-0.8,"h":-0.27},{"r":2,"c":1,"k":"h","x":0.81,"l":-0.75,"h":-0.38},{"r":2,"c":1,"k":"h","x":0.83,"l":-0.68,"h":-0.45},{"r":2,"c":1,"k":"h","x":0.835,"l":-0.55,"h":-0.55},
{"r":3,"c":2,"k":"h","x":-0.79,"l":0.5,"h":0.6},{"r":3,"c":2,"k":"h","x":-0.78,"l":0.44,"h":0.7},{"r":3,"c":2,"k":"h","x":-0.74,"l":0.36,"h":0.76},{"r":3,"c":2,"k":"h","x":-0.68,"l":0.26,"h":0.79},{"r":3,"c":2,"k":"h","x":-0.6,"l":0.13,"h":0.81},{"r":3,"c":2,"k":"h","x":-0.51,"l":-0.005,"h":0.82},{"r":3,"c":2,"k":"h","x":-0.3,"l":-0.005,"h":0.825},{"r":3,"c":2,"k":"h","x":0,"l":-0.005,"h":0.825},{"r":3,"c":2,"k":"h","x":0.3,"l":-0.005,"h":0.825},{"r":3,"c":2,"k":"h","x":0.51,"l":-0.005,"h":0.82},{"r":3,"c":2,"k":"h","x":0.6,"l":0.13,"h":0.81},{"r":3,"c":2,"k":"h","x":0.68,"l":0.26,"h":0.79},{"r":3,"c":2,"k":"h","x":0.74,"l":0.36,"h":0.76},{"r":3,"c":2,"k":"h","x":0.78,"l":0.44,"h":0.7},{"r":3,"c":2,"k":"h","x":0.79,"l":0.5,"h":0.6},
{"r":4,"c":2,"k":"h","x":-0.79,"l":-0.6,"h":-0.5},{"r":4,"c":2,"k":"h","x":-0.78,"l":-0.7,"h":-0.44},{"r":4,"c":2,"k":"h","x":-0.74,"l":-0.76,"h":-0.36},{"r":4,"c":2,"k":"h","x":-0.68,"l":-0.79,"h":-0.26},{"r":4,"c":2,"k":"h","x":-0.6,"l":-0.81,"h":-0.13},{"r":4,"c":2,"k":"h","x":-0.51,"l":-0.82,"h":0.005},{"r":4,"c":2,"k":"h","x":-0.3,"l":-0.825,"h":0.005},{"r":4,"c":2,"k":"h","x":0,"l":-0.825,"h":0.005},{"r":4,"c":2,"k":"h","x":0.3,"l":-0.825,"h":0.005},{"r":4,"c":2,"k":"h","x":0.51,"l":-0.82,"h":0.005},{"r":4,"c":2,"k":"h","x":0.6,"l":-0.81,"h":-0.13},{"r":4,"c":2,"k":"h","x":0.68,"l":-0.79,"h":-0.26},{"r":4,"c":2,"k":"h","x":0.74,"l":-0.76,"h":-0.36},{"r":4,"c":2,"k":"h","x":0.78,"l":-0.7,"h":-0.44},{"r":4,"c":2,"k":"h","x":0.79,"l":-0.6,"h":-0.5},
{"r":5,"c":1,"x":-0.51,"l":0,"h":0},{"r":5,"c":1,"x":-0.42,"l":-0.05,"h":0.05},{"r":5,"c":1,"x":-0.36,"l":-0.12,"h":0.12},{"r":5,"c":1,"x":-0.3,"l":-0.17,"h":0.17},{"r":5,"c":1,"x":-0.15,"l":-0.21,"h":0.21},{"r":5,"c":1,"x":0,"l":-0.22,"h":0.22},{"r":5,"c":1,"x":0.15,"l":-0.21,"h":0.21},{"r":5,"c":1,"x":0.3,"l":-0.17,"h":0.17},{"r":5,"c":1,"x":0.36,"l":-0.12,"h":0.12},{"r":5,"c":1,"x":0.42,"l":-0.05,"h":0.05},{"r":5,"c":1,"x":0.51,"l":0,"h":0},
{"r":6,"c":3,"x":-0.775,"l":0.545,"h":0.545},{"r":6,"c":3,"x":-0.76,"l":0.446,"h":0.644},{"r":6,"c":3,"x":-0.698,"l":0.38,"h":0.71},{"r":6,"c":3,"x":-0.465,"l":0.31,"h":0.78},{"r":6,"c":3,"x":0,"l":0.29,"h":0.8},{"r":6,"c":3,"x":0.465,"l":0.31,"h":0.78},{"r":6,"c":3,"x":0.698,"l":0.38,"h":0.71},{"r":6,"c":3,"x":0.76,"l":0.446,"h":0.644},{"r":6,"c":3,"x":0.775,"l":0.545,"h":0.545},
{"r":7,"c":4,"x":-0.725,"l":0.535,"h":0.535},{"r":7,"c":4,"x":-0.711,"l":0.455,"h":0.615},{"r":7,"c":4,"x":-0.653,"l":0.402,"h":0.668},{"r":7,"c":4,"x":-0.435,"l":0.346,"h":0.724},{"r":7,"c":4,"x":0,"l":0.33,"h":0.74},{"r":7,"c":4,"x":0.435,"l":0.346,"h":0.724},{"r":7,"c":4,"x":0.653,"l":0.402,"h":0.668},{"r":7,"c":4,"x":0.711,"l":0.455,"h":0.615},{"r":7,"c":4,"x":0.725,"l":0.535,"h":0.535},
{"r":8,"c":5,"x":-0.67,"l":0.53,"h":0.53},{"r":8,"c":5,"x":-0.657,"l":0.47,"h":0.59},{"r":8,"c":5,"x":-0.603,"l":0.43,"h":0.63},{"r":8,"c":5,"x":-0.402,"l":0.387,"h":0.673},{"r":8,"c":5,"x":0,"l":0.375,"h":0.685},{"r":8,"c":5,"x":0.402,"l":0.387,"h":0.673},{"r":8,"c":5,"x":0.603,"l":0.43,"h":0.63},{"r":8,"c":5,"x":0.657,"l":0.47,"h":0.59},{"r":8,"c":5,"x":0.67,"l":0.53,"h":0.53},
{"r":9,"c":6,"x":-0.6,"l":0.53,"h":0.53},{"r":9,"c":6,"x":-0.588,"l":0.491,"h":0.569},{"r":9,"c":6,"x":-0.54,"l":0.465,"h":0.595},{"r":9,"c":6,"x":-0.36,"l":0.438,"h":0.622},{"r":9,"c":6,"x":0,"l":0.43,"h":0.63},{"r":9,"c":6,"x":0.36,"l":0.438,"h":0.622},{"r":9,"c":6,"x":0.54,"l":0.465,"h":0.595},{"r":9,"c":6,"x":0.588,"l":0.491,"h":0.569},{"r":9,"c":6,"x":0.6,"l":0.53,"h":0.53},
{"r":10,"c":7,"x":-0.5,"l":0.53,"h":0.53},{"r":10,"c":7,"x":-0.46,"l":0.5,"h":0.56},{"r":10,"c":7,"x":-0.4,"l":0.49,"h":0.57},{"r":10,"c":7,"x":-0.34,"l":0.5,"h":0.56},{"r":10,"c":7,"x":-0.27,"l":0.51,"h":0.55},{"r":10,"c":7,"x":-0.2,"l":0.49,"h":0.575},{"r":10,"c":7,"x":-0.1,"l":0.475,"h":0.6},{"r":10,"c":7,"x":0,"l":0.47,"h":0.605},{"r":10,"c":7,"x":0.1,"l":0.475,"h":0.6},{"r":10,"c":7,"x":0.2,"l":0.49,"h":0.575},{"r":10,"c":7,"x":0.27,"l":0.51,"h":0.55},{"r":10,"c":7,"x":0.34,"l":0.5,"h":0.56},{"r":10,"c":7,"x":0.4,"l":0.49,"h":0.57},{"r":10,"c":7,"x":0.46,"l":0.5,"h":0.56},{"r":10,"c":7,"x":0.5,"l":0.53,"h":0.53},
{"r":11,"c":3,"x":-0.775,"l":-0.545,"h":-0.545},{"r":11,"c":3,"x":-0.76,"l":-0.644,"h":-0.446},{"r":11,"c":3,"x":-0.698,"l":-0.71,"h":-0.38},{"r":11,"c":3,"x":-0.465,"l":-0.78,"h":-0.31},{"r":11,"c":3,"x":0,"l":-0.8,"h":-0.29},{"r":11,"c":3,"x":0.465,"l":-0.78,"h":-0.31},{"r":11,"c":3,"x":0.698,"l":-0.71,"h":-0.38},{"r":11,"c":3,"x":0.76,"l":-0.644,"h":-0.446},{"r":11,"c":3,"x":0.775,"l":-0.545,"h":-0.545},
{"r":12,"c":4,"x":-0.725,"l":-0.535,"h":-0.535},{"r":12,"c":4,"x":-0.711,"l":-0.615,"h":-0.455},{"r":12,"c":4,"x":-0.653,"l":-0.668,"h":-0.402},{"r":12,"c":4,"x":-0.435,"l":-0.724,"h":-0.346},{"r":12,"c":4,"x":0,"l":-0.74,"h":-0.33},{"r":12,"c":4,"x":0.435,"l":-0.724,"h":-0.346},{"r":12,"c":4,"x":0.653,"l":-0.668,"h":-0.402},{"r":12,"c":4,"x":0.711,"l":-0.615,"h":-0.455},{"r":12,"c":4,"x":0.725,"l":-0.535,"h":-0.535},
{"r":13,"c":5,"x":-0.67,"l":-0.53,"h":-0.53},{"r":13,"c":5,"x":-0.657,"l":-0.59,"h":-0.47},{"r":13,"c":5,"x":-0.603,"l":-0.63,"h":-0.43},{"r":13,"c":5,"x":-0.402,"l":-0.673,"h":-0.387},{"r":13,"c":5,"x":0,"l":-0.685,"h":-0.375},{"r":13,"c":5,"x":0.402,"l":-0.673,"h":-0.387},{"r":13,"c":5,"x":0.603,"l":-0.63,"h":-0.43},{"r":13,"c":5,"x":0.657,"l":-0.59,"h":-0.47},{"r":13,"c":5,"x":0.67,"l":-0.53,"h":-0.53},
{"r":14,"c":6,"x":-0.6,"l":-0.53,"h":-0.53},{"r":14,"c":6,"x":-0.588,"l":-0.569,"h":-0.491},{"r":14,"c":6,"x":-0.54,"l":-0.595,"h":-0.465},{"r":14,"c":6,"x":-0.36,"l":-0.622,"h":-0.438},{"r":14,"c":6,"x":0,"l":-0.63,"h":-0.43},{"r":14,"c":6,"x":0.36,"l":-0.622,"h":-0.438},{"r":14,"c":6,"x":0.54,"l":-0.595,"h":-0.465},{"r":14,"c":6,"x":0.588,"l":-0.569,"h":-0.491},{"r":14,"c":6,"x":0.6,"l":-0.53,"h":-0.53},
{"r":15,"c":7,"x":-0.5,"l":-0.53,"h":-0.53},{"r":15,"c":7,"x":-0.46,"l":-0.56,"h":-0.5},{"r":15,"c":7,"x":-0.4,"l":-0.57,"h":-0.49},{"r":15,"c":7,"x":-0.34,"l":-0.56,"h":-0.5},{"r":15,"c":7,"x":-0.27,"l":-0.55,"h":-0.51},{"r":15,"c":7,"x":-0.2,"l":-0.575,"h":-0.49},{"r":15,"c":7,"x":-0.1,"l":-0.6,"h":-0.475},{"r":15,"c":7,"x":0,"l":-0.605,"h":-0.47},{"r":15,"c":7,"x":0.1,"l":-0.6,"h":-0.475},{"r":15,"c":7,"x":0.2,"l":-0.575,"h":-0.49},{"r":15,"c":7,"x":0.27,"l":-0.55,"h":-0.51},{"r":15,"c":7,"x":0.34,"l":-0.56,"h":-0.5},{"r":15,"c":7,"x":0.4,"l":-0.57,"h":-0.49},{"r":15,"c":7,"x":0.46,"l":-0.56,"h":-0.5},{"r":15,"c":7,"x":0.5,"l":-0.53,"h":-0.53}
],
"p8":[
{"r":1,"c":1,"x":-0.73,"l":-0.01,"h":-0.01},{"r":1,"c":1,"x":-0.716,"l":-0.298,"h":0.278},{"r":1,"c":1,"x":-0.66,"l":-0.489,"h":0.469},{"r":1,"c":1,"x":-0.45,"l":-0.692,"h":0.672},{"r":1,"c":1,"x":-0.03,"l":-0.75,"h":0.73},{"r":1,"c":1,"x":0.39,"l":-0.692,"h":0.672},{"r":1,"c":1,"x":0.6,"l":-0.489,"h":0.469},{"r":1,"c":1,"x":0.656,"l":-0.298,"h":0.278},{"r":1,"c":1,"x":0.67,"l":-0.01,"h":-0.01},
{"r":2,"c":2,"x":-0.61,"l":-0.01,"h":-0.01},{"r":2,"c":2,"x":-0.598,"l":-0.243,"h":0.223},{"r":2,"c":2,"x":-0.552,"l":-0.398,"h":0.378},{"r":2,"c":2,"x":-0.376,"l":-0.563,"h":0.543},{"r":2,"c":2,"x":-0.025,"l":-0.61,"h":0.59},{"r":2,"c":2,"x":0.326,"l":-0.563,"h":0.543},{"r":2,"c":2,"x":0.502,"l":-0.398,"h":0.378},{"r":2,"c":2,"x":0.548,"l":-0.243,"h":0.223},{"r":2,"c":2,"x":0.56,"l":-0.01,"h":-0.01},
{"r":3,"c":3,"x":-0.49,"l":0,"h":0},{"r":3,"c":3,"x":-0.466,"l":-0.145,"h":0.145},{"r":3,"c":3,"x":-0.395,"l":-0.279,"h":0.279},{"r":3,"c":3,"x":-0.253,"l":-0.403,"h":0.403},{"r":3,"c":3,"x":-0.015,"l":-0.465,"h":0.465},{"r":3,"c":3,"x":0.223,"l":-0.403,"h":0.403},{"r":3,"c":3,"x":0.365,"l":-0.279,"h":0.279},{"r":3,"c":3,"x":0.436,"l":-0.145,"h":0.145},{"r":3,"c":3,"x":0.46,"l":0,"h":0},
{"r":4,"c":4,"x":-0.345,"l":0,"h":0},{"r":4,"c":4,"x":-0.328,"l":-0.103,"h":0.103},{"r":4,"c":4,"x":-0.276,"l":-0.198,"h":0.198},{"r":4,"c":4,"x":-0.173,"l":-0.286,"h":0.286},{"r":4,"c":4,"x":0,"l":-0.33,"h":0.33},{"r":4,"c":4,"x":0.173,"l":-0.286,"h":0.286},{"r":4,"c":4,"x":0.276,"l":-0.198,"h":0.198},{"r":4,"c":4,"x":0.328,"l":-0.103,"h":0.103},{"r":4,"c":4,"x":0.345,"l":0,"h":0},
{"r":5,"c":5,"x":-0.255,"l":0,"h":0},{"r":5,"c":5,"x":-0.242,"l":-0.076,"h":0.076},{"r":5,"c":5,"x":-0.204,"l":-0.147,"h":0.147},{"r":5,"c":5,"x":-0.128,"l":-0.212,"h":0.212},{"r":5,"c":5,"x":0,"l":-0.245,"h":0.245},{"r":5,"c":5,"x":0.128,"l":-0.212,"h":0.212},{"r":5,"c":5,"x":0.204,"l":-0.147,"h":0.147},{"r":5,"c":5,"x":0.242,"l":-0.076,"h":0.076},{"r":5,"c":5,"x":0.255,"l":0,"h":0},
{"r":6,"c":6,"x":-0.17,"l":0,"h":0},{"r":6,"c":6,"x":-0.162,"l":-0.053,"h":0.053},{"r":6,"c":6,"x":-0.136,"l":-0.102,"h":0.102},{"r":6,"c":6,"x":-0.085,"l":-0.147,"h":0.147},{"r":6,"c":6,"x":0,"l":-0.17,"h":0.17},{"r":6,"c":6,"x":0.085,"l":-0.147,"h":0.147},{"r":6,"c":6,"x":0.136,"l":-0.102,"h":0.102},{"r":6,"c":6,"x":0.162,"l":-0.053,"h":0.053},{"r":6,"c":6,"x":0.17,"l":0,"h":0},
{"r":7,"c":7,"x":-0.075,"l":0,"h":0},{"r":7,"c":7,"x":-0.071,"l":-0.025,"h":0.025},{"r":7,"c":7,"x":-0.06,"l":-0.048,"h":0.048},{"r":7,"c":7,"x":-0.038,"l":-0.069,"h":0.069},{"r":7,"c":7,"x":0,"l":-0.08,"h":0.08},{"r":7,"c":7,"x":0.038,"l":-0.069,"h":0.069},{"r":7,"c":7,"x":0.06,"l":-0.048,"h":0.048},{"r":7,"c":7,"x":0.071,"l":-0.025,"h":0.025},{"r":7,"c":7,"x":0.075,"l":0,"h":0}
],
"cb1":[{"lo":0,"hi":13,"c":0},{"lo":13,"hi":26,"c":1},{"lo":26,"hi":39,"c":2},{"lo":39,"hi":52,"c":3},{"lo":52,"hi":65,"c":4},{"lo":65,"hi":78,"c":5},{"lo":78,"hi":91,"c":6},{"lo":91,"hi":104,"c":7}],
"cb2":[{"lo":0,"hi":3,"c":0},{"lo":3,"hi":6,"c":1},{"lo":6,"hi":9,"c":2},{"lo":9,"hi":12,"c":3},{"lo":12,"hi":15,"c":4},{"lo":15,"hi":18,"c":5},{"lo":18,"hi":21,"c":6},{"lo":21,"hi":24,"c":7}],
"cb3":[{"lo":0,"hi":7,"c":0},{"lo":7,"hi":14,"c":1},{"lo":14,"hi":21,"c":2},{"lo":21,"hi":28,"c":3},{"lo":28,"hi":35,"c":4},{"lo":35,"hi":42,"c":5},{"lo":42,"hi":49,"c":6},{"lo":49,"hi":56,"c":7}],
"cb4":[{"lo":9.9,"hi":10,"c":8},{"lo":10,"hi":10.1,"c":9}],
"cb5":[{"lo":0,"hi":0.00035,"c":0},{"lo":0.00035,"hi":0.0007,"c":1},{"lo":0.0007,"hi":0.00105,"c":2},{"lo":0.00105,"hi":0.0014,"c":3},{"lo":0.0014,"hi":0.00175,"c":4},{"lo":0.00175,"hi":0.0021,"c":5},{"lo":0.0021,"hi":0.00245,"c":6},{"lo":0.00245,"hi":0.0028,"c":7}],
"cb6":[{"lo":0,"hi":0.0004,"c":0},{"lo":0.0004,"hi":0.0008,"c":1},{"lo":0.0008,"hi":0.0012,"c":2},{"lo":0.0012,"hi":0.0016,"c":3},{"lo":0.0016,"hi":0.002,"c":4},{"lo":0.002,"hi":0.0024,"c":5},{"lo":0.0024,"hi":0.0028,"c":6},{"lo":0.0028,"hi":0.0032,"c":7}],
"cb8":[{"lo":0,"hi":0.0007,"c":0},{"lo":0.0007,"hi":0.0014,"c":1},{"lo":0.0014,"hi":0.0021,"c":2},{"lo":0.0021,"hi":0.0028,"c":3},{"lo":0.0028,"hi":0.0035,"c":4},{"lo":0.0035,"hi":0.0042,"c":5},{"lo":0.0042,"hi":0.0049,"c":6},{"lo":0.0049,"hi":0.0056,"c":7}]
},
"columns":11,
"spacing":{"row":61.7,"column":7},
"bounds":"flush",
"align":"each",
"concat":[
 {"width":113,"height":74.3,"data":{"values":[]},"mark":"point","view":{"stroke":null}},
 {"width":5.5,"height":74.3,"data":{"values":[]},"mark":"point","view":{"stroke":null}},
 {"width":72,"height":74.3,"data":{"values":[]},"mark":"point","view":{"stroke":null}},
 {"width":113,"height":74.3,"data":{"values":[]},"mark":"point","view":{"stroke":null}},
 {"width":5.5,"height":74.3,"data":{"values":[]},"mark":"point","view":{"stroke":null}},
 {"width":72,"height":74.3,"data":{"values":[]},"mark":"point","view":{"stroke":null},"title":{"text":"SENSITIVITY PRESERVING SAMPLING OF THE FISHER-INFORMATION MATRIX","font":"DejaVu Serif","fontSize":15.9,"anchor":"middle","dx":5.7,"offset":4}},
 {"width":113,"height":74.3,"data":{"values":[]},"mark":"point","view":{"stroke":null}},
 {"width":5.5,"height":74.3,"data":{"values":[]},"mark":"point","view":{"stroke":null}},
 {"width":72,"height":74.3,"data":{"values":[]},"mark":"point","view":{"stroke":null}},
 {"width":113,"height":74.3,"data":{"values":[]},"mark":"point","view":{"stroke":null}},
 {"width":5.5,"height":74.3,"data":{"values":[]},"mark":"point","view":{"stroke":null},"title":{"text":"13","font":"DejaVu Serif","fontSize":15.9,"anchor":"end","dx":41.7,"offset":4}},

 {"width":113,"height":104,"data":{"name":"p1"},"view":{"fill":"#471669"},"title":"Potential 𝑝.",
  "mark":{"type":"area","orient":"vertical","interpolate":"monotone","clip":true,"stroke":"#ffffff","strokeWidth":0.5,"strokeOpacity":0.45},
  "encoding":{"x":{"field":"x","type":"quantitative","scale":{"domain":[-0.925,0.925],"nice":false,"zero":false},"axis":{"values":[-0.5,0,0.5],"format":".1f","title":"𝑥₁"}},"y":{"field":"l","type":"quantitative","stack":null,"scale":{"domain":[-0.925,0.925],"nice":false,"zero":false},"axis":{"values":[-0.5,0,0.5],"format":".1f","title":"𝑥₂"}},"y2":{"field":"h"},"detail":{"field":"r"},"color":{"field":"c","type":"ordinal","scale":{"domain":[0,1,2,3,4,5,6,7,8,9],"range":["#471669","#433e85","#34628d","#27818d","#1f9f88","#3fbc73","#84d44b","#d5e21a","#3b528b","#5ec962"]},"legend":null}}},
 {"width":5.5,"height":104,"data":{"name":"cb1"},"mark":"rect","encoding":{"y":{"field":"lo","type":"quantitative","scale":{"domain":[0,104],"nice":false,"zero":false},"axis":{"orient":"right","values":[0,25,50,75,100],"format":"d","title":null}},"y2":{"field":"hi"},"color":{"field":"c","type":"ordinal","scale":{"domain":[0,1,2,3,4,5,6,7,8,9],"range":["#471669","#433e85","#34628d","#27818d","#1f9f88","#3fbc73","#84d44b","#d5e21a","#3b528b","#5ec962"]},"legend":null}}},
 {"width":72,"height":104,"data":{"values":[]},"mark":"point","view":{"stroke":null}},
 {"width":113,"height":104,"data":{"name":"p2"},"view":{"fill":"#433e85"},"title":"Potential 𝑝.",
  "mark":{"type":"area","orient":"vertical","interpolate":"monotone","clip":true,"stroke":"#ffffff","strokeWidth":0.5,"strokeOpacity":0.45},
  "encoding":{"x":{"field":"x","type":"quantitative","scale":{"domain":[-0.925,0.925],"nice":false,"zero":false},"axis":{"values":[-0.5,0,0.5],"format":".1f","title":"𝑥₁"}},"y":{"field":"l","type":"quantitative","stack":null,"scale":{"domain":[-0.925,0.925],"nice":false,"zero":false},"axis":{"values":[-0.5,0,0.5],"format":".1f","title":"𝑥₂"}},"y2":{"field":"h"},"detail":{"field":"r"},"color":{"field":"c","type":"ordinal","scale":{"domain":[0,1,2,3,4,5,6,7,8,9],"range":["#471669","#433e85","#34628d","#27818d","#1f9f88","#3fbc73","#84d44b","#d5e21a","#3b528b","#5ec962"]},"legend":null}}},
 {"width":5.5,"height":104,"data":{"name":"cb2"},"mark":"rect","encoding":{"y":{"field":"lo","type":"quantitative","scale":{"domain":[0,24],"nice":false,"zero":false},"axis":{"orient":"right","values":[0,5,10,15,20],"format":"d","title":null}},"y2":{"field":"hi"},"color":{"field":"c","type":"ordinal","scale":{"domain":[0,1,2,3,4,5,6,7,8,9],"range":["#471669","#433e85","#34628d","#27818d","#1f9f88","#3fbc73","#84d44b","#d5e21a","#3b528b","#5ec962"]},"legend":null}}},
 {"width":72,"height":104,"data":{"values":[]},"mark":"point","view":{"stroke":null}},
 {"width":113,"height":104,"data":{"name":"p3"},"view":{"fill":"#471669"},"title":"Potential 𝑝.",
  "mark":{"type":"area","orient":"vertical","interpolate":"monotone","clip":true,"stroke":"#ffffff","strokeWidth":0.5,"strokeOpacity":0.45},
  "encoding":{"x":{"field":"x","type":"quantitative","scale":{"domain":[-0.925,0.925],"nice":false,"zero":false},"axis":{"values":[-0.5,0,0.5],"format":".1f","title":"𝑥₁"}},"y":{"field":"l","type":"quantitative","stack":null,"scale":{"domain":[-0.925,0.925],"nice":false,"zero":false},"axis":{"values":[-0.5,0,0.5],"format":".1f","title":"𝑥₂"}},"y2":{"field":"h"},"detail":{"field":"r"},"color":{"field":"c","type":"ordinal","scale":{"domain":[0,1,2,3,4,5,6,7,8,9],"range":["#471669","#433e85","#34628d","#27818d","#1f9f88","#3fbc73","#84d44b","#d5e21a","#3b528b","#5ec962"]},"legend":null}}},
 {"width":5.5,"height":104,"data":{"name":"cb3"},"mark":"rect","encoding":{"y":{"field":"lo","type":"quantitative","scale":{"domain":[0,56],"nice":false,"zero":false},"axis":{"orient":"right","values":[0,15,30,45],"format":"d","title":null}},"y2":{"field":"hi"},"color":{"field":"c","type":"ordinal","scale":{"domain":[0,1,2,3,4,5,6,7,8,9],"range":["#471669","#433e85","#34628d","#27818d","#1f9f88","#3fbc73","#84d44b","#d5e21a","#3b528b","#5ec962"]},"legend":null}}},
 {"width":72,"height":104,"data":{"values":[]},"mark":"point","view":{"stroke":null}},
 {"width":113,"height":104,"data":{"name":"p4"},"view":{"fill":"#3b528b"},"title":"Potential 𝑝 .",
  "mark":{"type":"area","orient":"vertical","interpolate":"monotone","clip":true},
  "encoding":{"x":{"field":"x","type":"quantitative","scale":{"domain":[-0.925,0.925],"nice":false,"zero":false},"axis":{"values":[-0.5,0,0.5],"format":".1f","title":"𝑥₁"}},"y":{"field":"l","type":"quantitative","stack":null,"scale":{"domain":[-0.925,0.925],"nice":false,"zero":false},"axis":{"values":[-0.5,0,0.5],"format":".1f","title":"𝑥₂"}},"y2":{"field":"h"},"detail":{"field":"r"},"color":{"field":"c","type":"ordinal","scale":{"domain":[0,1,2,3,4,5,6,7,8,9],"range":["#471669","#433e85","#34628d","#27818d","#1f9f88","#3fbc73","#84d44b","#d5e21a","#3b528b","#5ec962"]},"legend":null}}},
 {"width":5.5,"height":104,"data":{"name":"cb4"},"mark":"rect","encoding":{"y":{"field":"lo","type":"quantitative","scale":{"domain":[9.9,10.1],"nice":false,"zero":false},"axis":{"orient":"right","values":[10],"format":"d","title":null}},"y2":{"field":"hi"},"color":{"field":"c","type":"ordinal","scale":{"domain":[0,1,2,3,4,5,6,7,8,9],"range":["#471669","#433e85","#34628d","#27818d","#1f9f88","#3fbc73","#84d44b","#d5e21a","#3b528b","#5ec962"]},"legend":null}}},

 {"width":113,"height":104,"data":{"name":"p5"},"view":{"fill":"#471669"},"title":"𝜇̃",
  "mark":{"type":"area","orient":"vertical","interpolate":"monotone","clip":true,"stroke":"#ffffff","strokeWidth":0.5,"strokeOpacity":0.45},
  "encoding":{"x":{"field":"x","type":"quantitative","scale":{"domain":[-0.925,0.925],"nice":false,"zero":false},"axis":{"values":[-0.5,0,0.5],"format":".1f","title":"𝑥₁"}},"y":{"field":"l","type":"quantitative","stack":null,"scale":{"domain":[-0.925,0.925],"nice":false,"zero":false},"axis":{"values":[-0.5,0,0.5],"format":".1f","title":"𝑥₂"}},"y2":{"field":"h"},"detail":{"field":"r"},"color":{"field":"c","type":"ordinal","scale":{"domain":[0,1,2,3,4,5,6,7,8,9],"range":["#471669","#433e85","#34628d","#27818d","#1f9f88","#3fbc73","#84d44b","#d5e21a","#3b528b","#5ec962"]},"legend":null}}},
 {"width":5.5,"height":104,"data":{"name":"cb5"},"mark":"rect","encoding":{"y":{"field":"lo","type":"quantitative","scale":{"domain":[0,0.0028],"nice":false,"zero":false},"axis":{"orient":"right","values":[0,0.0006,0.0012,0.0018,0.0024],"format":".4f","title":null}},"y2":{"field":"hi"},"color":{"field":"c","type":"ordinal","scale":{"domain":[0,1,2,3,4,5,6,7,8,9],"range":["#471669","#433e85","#34628d","#27818d","#1f9f88","#3fbc73","#84d44b","#d5e21a","#3b528b","#5ec962"]},"legend":null}}},
 {"width":72,"height":104,"data":{"values":[]},"mark":"point","view":{"stroke":null}},
 {"width":113,"height":104,"data":{"name":"p6"},"view":{"fill":"#471669"},"title":"𝜇̃",
  "mark":{"type":"area","orient":"vertical","interpolate":"monotone","clip":true,"stroke":"#ffffff","strokeWidth":0.5,"strokeOpacity":0.45},
  "encoding":{"x":{"field":"x","type":"quantitative","scale":{"domain":[-0.925,0.925],"nice":false,"zero":false},"axis":{"values":[-0.5,0,0.5],"format":".1f","title":"𝑥₁"}},"y":{"field":"l","type":"quantitative","stack":null,"scale":{"domain":[-0.925,0.925],"nice":false,"zero":false},"axis":{"values":[-0.5,0,0.5],"format":".1f","title":"𝑥₂"}},"y2":{"field":"h"},"detail":{"field":"r"},"color":{"field":"c","type":"ordinal","scale":{"domain":[0,1,2,3,4,5,6,7,8,9],"range":["#471669","#433e85","#34628d","#27818d","#1f9f88","#3fbc73","#84d44b","#d5e21a","#3b528b","#5ec962"]},"legend":null}}},
 {"width":5.5,"height":104,"data":{"name":"cb6"},"mark":"rect","encoding":{"y":{"field":"lo","type":"quantitative","scale":{"domain":[0,0.0032],"nice":false,"zero":false},"axis":{"orient":"right","values":[0,0.0008,0.0016,0.0024,0.0032],"format":".4f","title":null}},"y2":{"field":"hi"},"color":{"field":"c","type":"ordinal","scale":{"domain":[0,1,2,3,4,5,6,7,8,9],"range":["#471669","#433e85","#34628d","#27818d","#1f9f88","#3fbc73","#84d44b","#d5e21a","#3b528b","#5ec962"]},"legend":null}}},
 {"width":72,"height":104,"data":{"values":[]},"mark":"point","view":{"stroke":null}},
 {"width":113,"height":104,"data":{"name":"p7"},"view":{"fill":"#471669"},"title":"𝜇̃",
  "mark":{"type":"area","orient":"vertical","interpolate":"monotone","clip":true,"stroke":"#ffffff","strokeWidth":0.5},
  "encoding":{"x":{"field":"x","type":"quantitative","scale":{"domain":[-0.925,0.925],"nice":false,"zero":false},"axis":{"values":[-0.5,0,0.5],"format":".1f","title":"𝑥₁"}},"y":{"field":"l","type":"quantitative","stack":null,"scale":{"domain":[-0.925,0.925],"nice":false,"zero":false},"axis":{"values":[-0.5,0,0.5],"format":".1f","title":"𝑥₂"}},"y2":{"field":"h"},"detail":{"field":"r"},"strokeOpacity":{"condition":{"test":"datum.k==='h'","value":0},"value":0.45},"color":{"field":"c","type":"ordinal","scale":{"domain":[0,1,2,3,4,5,6,7,8,9],"range":["#471669","#433e85","#34628d","#27818d","#1f9f88","#3fbc73","#84d44b","#d5e21a","#3b528b","#5ec962"]},"legend":null}}},
 {"width":5.5,"height":104,"data":{"name":"cb6"},"mark":"rect","encoding":{"y":{"field":"lo","type":"quantitative","scale":{"domain":[0,0.0032],"nice":false,"zero":false},"axis":{"orient":"right","values":[0,0.0008,0.0016,0.0024,0.0032],"format":".4f","title":null}},"y2":{"field":"hi"},"color":{"field":"c","type":"ordinal","scale":{"domain":[0,1,2,3,4,5,6,7,8,9],"range":["#471669","#433e85","#34628d","#27818d","#1f9f88","#3fbc73","#84d44b","#d5e21a","#3b528b","#5ec962"]},"legend":null}}},
 {"width":72,"height":104,"data":{"values":[]},"mark":"point","view":{"stroke":null}},
 {"width":113,"height":104,"data":{"name":"p8"},"view":{"fill":"#471669"},"title":"𝜇̃",
  "mark":{"type":"area","orient":"vertical","interpolate":"monotone","clip":true,"stroke":"#ffffff","strokeWidth":0.5,"strokeOpacity":0.45},
  "encoding":{"x":{"field":"x","type":"quantitative","scale":{"domain":[-0.925,0.925],"nice":false,"zero":false},"axis":{"values":[-0.5,0,0.5],"format":".1f","title":"𝑥₁"}},"y":{"field":"l","type":"quantitative","stack":null,"scale":{"domain":[-0.925,0.925],"nice":false,"zero":false},"axis":{"values":[-0.5,0,0.5],"format":".1f","title":"𝑥₂"}},"y2":{"field":"h"},"detail":{"field":"r"},"color":{"field":"c","type":"ordinal","scale":{"domain":[0,1,2,3,4,5,6,7,8,9],"range":["#471669","#433e85","#34628d","#27818d","#1f9f88","#3fbc73","#84d44b","#d5e21a","#3b528b","#5ec962"]},"legend":null}}},
 {"width":5.5,"height":104,"data":{"name":"cb8"},"mark":"rect","encoding":{"y":{"field":"lo","type":"quantitative","scale":{"domain":[0,0.0056],"nice":false,"zero":false},"axis":{"orient":"right","values":[0,0.0015,0.003,0.0045],"format":".4f","title":null}},"y2":{"field":"hi"},"color":{"field":"c","type":"ordinal","scale":{"domain":[0,1,2,3,4,5,6,7,8,9],"range":["#471669","#433e85","#34628d","#27818d","#1f9f88","#3fbc73","#84d44b","#d5e21a","#3b528b","#5ec962"]},"legend":null}}}
]
}
